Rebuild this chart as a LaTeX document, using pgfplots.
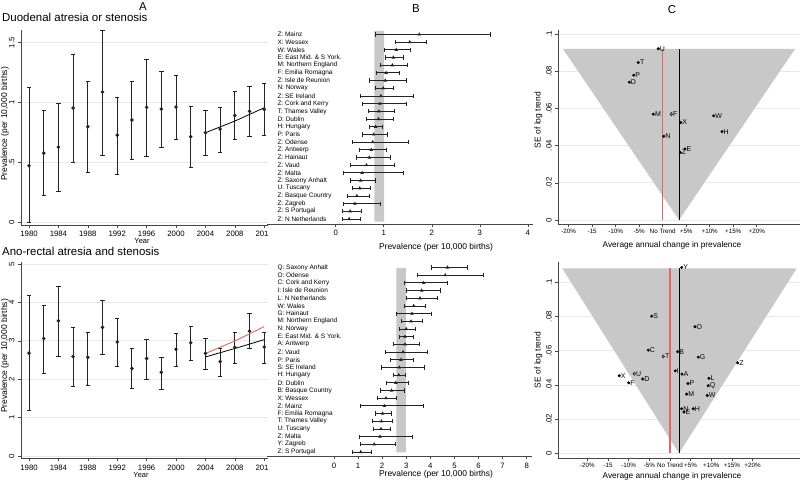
\documentclass[border=0pt]{standalone}
\usepackage{pgfplots}
\pgfplotsset{compat=1.18}
\usepackage{pgfplotstable}
\usepackage{fontspec}
\setmainfont{Liberation Sans}
\definecolor{gridc}{RGB}{226,234,236}
\definecolor{axc}{RGB}{70,70,70}
\definecolor{barc}{RGB}{35,35,35}
\definecolor{fun}{RGB}{200,200,200}
\definecolor{redl}{RGB}{228,100,95}
\newcommand{\fs}[1]{\fontsize{#1}{#1}\selectfont}

\pgfplotsset{
  stbase/.style={
    scale only axis,
    anchor=south west,
    axis line style={axc, line width=0.7bp},
    tick style={axc, line width=0.6bp},
    tick align=outside,
    major tick length=3bp,
    clip=false,
    /pgf/number format/assume math mode=true,
    major grid style={gridc, line width=0.8bp},
  },
  aerr/.style={barc, line width=0.9bp, only marks, mark=*, mark size=1.3bp,
    error bars/.cd, y dir=both, y explicit,
    error bar style={barc, line width=0.9bp},
    error mark options={rotate=90, barc, mark size=2.2bp, line width=0.9bp}},
  berr/.style={barc, line width=0.8bp, only marks, mark=triangle*, mark size=1.3bp,
    error bars/.cd, x dir=both, x explicit,
    error bar style={barc, line width=0.8bp},
    error mark options={rotate=90, barc, mark size=2.1bp, line width=0.8bp}},
  clab/.style={every node near coord/.append style={anchor=west, font=\fs{7}, inner sep=1.5bp, text=black}},
}

\pgfplotstableread{
yr y lo hi
1980 0.475 0.000 1.130
1982 0.580 0.225 0.936
1984 0.630 0.264 0.994
1986 0.956 0.503 1.400
1988 0.800 0.417 1.180
1990 1.089 0.564 1.600
1992 0.730 0.406 1.047
1994 0.856 0.525 1.178
1996 0.961 0.556 1.364
1998 0.947 0.631 1.258
2000 0.964 0.694 1.228
2002 0.717 0.464 0.967
2004 0.750 0.564 0.933
2006 0.780 0.589 0.958
2008 0.894 0.694 1.097
2010 0.928 0.717 1.133
2012 0.944 0.728 1.161
}\dAtop

\pgfplotstableread{
yr y lo hi
1980 2.68 1.18 4.17
1982 3.06 2.14 3.93
1984 3.52 2.59 4.42
1986 2.59 1.81 3.34
1988 2.57 1.85 3.23
1990 3.35 2.64 4.05
1992 2.97 2.34 3.59
1994 2.28 1.76 2.80
1996 2.54 2.00 3.04
1998 2.18 1.74 2.57
2000 2.78 2.34 3.19
2002 2.95 2.48 3.37
2004 2.67 2.26 3.06
2006 2.46 2.06 2.80
2008 2.83 2.40 3.23
2010 3.25 2.79 3.70
2012 2.84 2.40 3.23
}\dAbot

\pgfplotstableread{
row lo pt hi
25 0.83 1.74 3.22
24 1.24 1.54 1.89
23 1.01 1.26 1.55
22 1.03 1.20 1.41
21 0.94 1.18 1.50
20 0.84 1.05 1.32
19 0.70 1.03 1.48
18 0.83 0.99 1.20
17 0.51 0.94 1.61
16 0.55 0.92 1.48
15 0.67 0.90 1.22
14 0.64 0.89 1.20
13 0.70 0.83 0.98
12 0.56 0.79 1.07
11 0.34 0.77 1.52
10 0.50 0.74 1.06
9 0.43 0.70 1.13
8 0.31 0.64 1.22
7 0.15 0.55 1.40
6 0.31 0.52 0.83
5 0.35 0.50 0.73
4 0.24 0.44 0.70
3 0.15 0.40 0.93
2 0.14 0.30 0.53
1 0.14 0.28 0.51
}\dBtop

\pgfplotstableread{
row lo pt hi
25 4.03 4.71 5.52
24 3.45 4.62 6.19
23 2.93 3.72 4.71
22 3.02 3.64 4.43
21 3.02 3.57 4.29
20 2.91 3.31 3.79
19 2.59 3.24 4.03
18 2.80 3.20 3.68
17 2.71 3.00 3.36
16 2.71 2.95 3.28
15 2.46 2.95 3.54
14 2.12 2.87 3.88
13 2.34 2.78 3.29
12 1.95 2.71 3.74
11 2.46 2.69 2.98
10 2.16 2.57 3.09
9 1.92 2.39 2.93
8 1.81 2.16 2.59
7 1.11 2.09 3.71
6 1.74 2.02 2.39
5 1.61 1.97 2.41
4 1.63 1.95 2.35
3 1.05 1.91 3.24
2 1.11 1.67 2.55
1 0.78 1.11 1.54
}\dBbot

\newcommand{\bl}[3]{\node[anchor=west, font=\fs{6.5}, inner sep=0pt] at (axis cs:#1,#2) {#3};}

\begin{document}
\begin{tikzpicture}
\path[use as bounding box, fill=white] (0,0) rectangle (800bp,-480bp);

% ---------------- Titles ----------------
\node[font=\fs{11.5}] at (143bp,-7bp) {A};
\node[font=\fs{11.5}] at (416bp,-9bp) {B};
\node[font=\fs{11.5}] at (672bp,-10bp) {C};
\node[font=\fs{11.5}, anchor=west, inner sep=0pt] at (2bp,-17bp) {Duodenal atresia or stenosis};
\node[font=\fs{11.5}, anchor=west, inner sep=0pt] at (2bp,-251.5bp) {Ano-rectal atresia and stenosis};
\node[font=\fs{7.5}] at (142bp,-241bp) {Year};
\node[font=\fs{7.5}] at (141bp,-475bp) {Year};
\node[font=\fs{8.5}, rotate=90] at (5bp,-124bp) {Prevalence (per 10,000 births)};
\node[font=\fs{8.5}, rotate=90] at (5bp,-356bp) {Prevalence (per 10,000 births)};
\node[font=\fs{8.5}] at (436bp,-247bp) {Prevalence (per 10,000 births)};
\node[font=\fs{8.5}] at (436bp,-474bp) {Prevalence (per 10,000 births)};
\node[font=\fs{8.3}] at (672bp,-245bp) {Average annual change in prevalence};
\node[font=\fs{8.3}] at (672bp,-476.2bp) {Average annual change in prevalence};
\node[font=\fs{8.5}, rotate=90] at (538.5bp,-120bp) {SE of log trend};
\node[font=\fs{8.5}, rotate=90] at (538.5bp,-360bp) {SE of log trend};

% ---------------- Panel A top ----------------
\begin{scope}
\clip (0,0) rectangle (268bp,-480bp);
\begin{axis}[stbase, at={(21bp,-225bp)}, width=252.8bp, height=195.5bp,
  xmin=1978.91, xmax=2013.3, ymin=-0.019, ymax=1.61,
  axis x line*=bottom, axis y line*=left,
  xtick={1980,1984,...,2012},
  xticklabels={1980,1984,1988,1992,1996,2000,2004,2008,2012},
  ytick={0,0.5,1,1.5}, yticklabels={0,.5,1,1.5},
  yticklabel style={rotate=90, anchor=south, font=\fs{7.8}},
  xticklabel style={font=\fs{7.8}},
  ymajorgrids]
\addplot[aerr] table[x=yr, y=y, y error plus expr=\thisrow{hi}-\thisrow{y}, y error minus expr=\thisrow{y}-\thisrow{lo}] {\dAtop};
\addplot[black, line width=0.8bp] coordinates {(2004,0.750) (2008,0.847) (2012,0.958)};
\end{axis}
\end{scope}

% ---------------- Panel A bottom ----------------
\begin{scope}
\clip (0,-240bp) rectangle (268bp,-480bp);
\begin{axis}[stbase, at={(21bp,-458.3bp)}, width=252.8bp, height=196.2bp,
  xmin=1978.91, xmax=2013.3, ymin=-0.06, ymax=5.05,
  axis x line*=bottom, axis y line*=left,
  xtick={1980,1984,...,2012},
  xticklabels={1980,1984,1988,1992,1996,2000,2004,2008,2012},
  ytick={0,1,2,3,4,5}, yticklabels={0,1,2,3,4,5},
  yticklabel style={rotate=90, anchor=south, font=\fs{7.8}},
  xticklabel style={font=\fs{7.8}},
  ymajorgrids]
\addplot[aerr] table[x=yr, y=y, y error plus expr=\thisrow{hi}-\thisrow{y}, y error minus expr=\thisrow{y}-\thisrow{lo}] {\dAbot};
\addplot[black, line width=0.8bp] coordinates {(2004,2.58) (2008,2.80) (2012,3.03)};
\addplot[redl, line width=0.9bp] coordinates {(2004,2.67) (2008,2.995) (2012,3.37)};
\end{axis}
\end{scope}

% ---------------- Panel B top ----------------
\begin{axis}[stbase, at={(267bp,-224bp)}, width=265.7bp, height=197.25bp,
  xmin=-1.43, xmax=4.1, ymin=0.35, ymax=26,
  axis x line*=bottom, axis y line=none,
  xtick={0,1,2,3,4}, xticklabel style={font=\fs{7.8}}]
\addplot[fill=fun, draw=none] coordinates {(0.805,0.65) (1.01,0.65) (1.01,25.45) (0.805,25.45) (0.805,0.65)};
\addplot[berr] table[x=pt, y=row, x error plus expr=\thisrow{hi}-\thisrow{pt}, x error minus expr=\thisrow{pt}-\thisrow{lo}] {\dBtop};
\bl{-1.215}{25}{Z: Mainz}
\bl{-1.215}{24}{X: Wessex}
\bl{-1.215}{23}{W: Wales}
\bl{-1.215}{22}{E: East Mid. \& S York.}
\bl{-1.215}{21}{M: Northern England}
\bl{-1.215}{20}{F: Emilia Romagna}
\bl{-1.215}{19}{Z: Isle de Reunion}
\bl{-1.215}{18}{N: Norway}
\bl{-1.215}{17}{Z: SE Ireland}
\bl{-1.215}{16}{Z: Cork and Kerry}
\bl{-1.215}{15}{T: Thames Valley}
\bl{-1.215}{14}{D: Dublin}
\bl{-1.215}{13}{H: Hungary}
\bl{-1.215}{12}{P: Paris}
\bl{-1.215}{11}{Z: Odense}
\bl{-1.215}{10}{Z: Antwerp}
\bl{-1.215}{9}{Z: Hainaut}
\bl{-1.215}{8}{Z: Vaud}
\bl{-1.215}{7}{Z: Malta}
\bl{-1.215}{6}{Z: Saxony Anhalt}
\bl{-1.215}{5}{U: Tuscany}
\bl{-1.215}{4}{Z: Basque Country}
\bl{-1.215}{3}{Z: Zagreb}
\bl{-1.215}{2}{Z: S Portugal}
\bl{-1.215}{1}{Z: N Netherlands}
\end{axis}

% ---------------- Panel B bottom ----------------
\begin{axis}[stbase, at={(267bp,-456.3bp)}, width=265bp, height=196.5bp,
  xmin=-2.78, xmax=8.22, ymin=0.44, ymax=26,
  axis x line*=bottom, axis y line=none,
  xtick={0,1,2,3,4,5,6,7,8}, xticklabel style={font=\fs{7.8}}]
\addplot[fill=fun, draw=none] coordinates {(2.59,0.95) (2.98,0.95) (2.98,24.95) (2.59,24.95) (2.59,0.95)};
\addplot[berr] table[x=pt, y=row, x error plus expr=\thisrow{hi}-\thisrow{pt}, x error minus expr=\thisrow{pt}-\thisrow{lo}] {\dBbot};
\bl{-2.35}{25}{Q: Saxony Anhalt}
\bl{-2.35}{24}{O: Odense}
\bl{-2.35}{23}{C: Cork and Kerry}
\bl{-2.35}{22}{I: Isle de Reunion}
\bl{-2.35}{21}{L: N Netherlands}
\bl{-2.35}{20}{W: Wales}
\bl{-2.35}{19}{G: Hainaut}
\bl{-2.35}{18}{M: Northern England}
\bl{-2.35}{17}{N: Norway}
\bl{-2.35}{16}{E: East Mid. \& S York.}
\bl{-2.35}{15}{A: Antwerp}
\bl{-2.35}{14}{Z: Vaud}
\bl{-2.35}{13}{P: Paris}
\bl{-2.35}{12}{S: SE Ireland}
\bl{-2.35}{11}{H: Hungary}
\bl{-2.35}{10}{D: Dublin}
\bl{-2.35}{9}{B: Basque Country}
\bl{-2.35}{8}{X: Wessex}
\bl{-2.35}{7}{Z: Mainz}
\bl{-2.35}{6}{F: Emilia Romagna}
\bl{-2.35}{5}{T: Thames Valley}
\bl{-2.35}{4}{U: Tuscany}
\bl{-2.35}{3}{Z: Malta}
\bl{-2.35}{2}{Y: Zagreb}
\bl{-2.35}{1}{Z: S Portugal}
\end{axis}

% ---------------- Panel C top ----------------
\begin{axis}[stbase, at={(558.3bp,-224.3bp)}, width=241.7bp, height=194.3bp,
  xmin=-22.21, xmax=29.21, ymin=-0.0023, ymax=0.1023,
  axis x line*=bottom, axis y line*=left,
  xtick={-20,-15,-10,-5,0,5,10,15,20},
  xticklabels={-20\%,-15,-10\%,-5\%,No Trend,+5\%,+10\%,+15\%,+20\%},
  xticklabel style={font=\fs{6.3}, inner sep=1.5bp},
  ytick={0,0.02,0.04,0.06,0.08,0.1}, yticklabels={0,.02,.04,.06,.08,.1},
  yticklabel style={rotate=90, anchor=south, font=\fs{7.8}},
  ymajorgrids]
\addplot[fill=fun, draw=none] coordinates {(-21.21,0.0921) (28.15,0.0921) (3.47,0) (-21.21,0.0921)};
\addplot[redl, line width=1.3bp] coordinates {(0,0) (0,0.0921)};
\addplot[black, line width=0.8bp] coordinates {(3.47,0) (3.47,0.0921)};
\addplot[only marks, mark=*, mark size=1.3bp, black, clab, nodes near coords, point meta=explicit symbolic]
 table[x=x, y=y, meta=lab] {
x y lab
-0.94 0.0922 U
-5.19 0.0848 T
-6.17 0.0780 P
-7.11 0.0742 D
-2.00 0.0570 M
3.83 0.0525 X
0.21 0.0451 N
10.85 0.0561 W
12.62 0.0476 H
4.74 0.0383 E
3.74 0.0363 Z
};
\addplot[only marks, mark=diamond, mark size=1.6bp, black, line width=0.5bp, clab, nodes near coords, point meta=explicit symbolic]
 table[x=x, y=y, meta=lab] {
x y lab
1.83 0.0570 F
};
\end{axis}

% ---------------- Panel C bottom ----------------
\begin{axis}[stbase, at={(558.3bp,-458.3bp)}, width=241.7bp, height=196.3bp,
  xmin=-27.05, xmax=31.5, ymin=-0.0029, ymax=0.112,
  axis x line*=bottom, axis y line*=left,
  xtick={-20,-15,-10,-5,0,5,10,15,20},
  xticklabels={-20\%,-15,-10\%,-5\%,No Trend,+5\%,+10\%,+15\%,+20\%},
  xticklabel style={font=\fs{6.3}, inner sep=1.5bp},
  ytick={0,0.02,0.04,0.06,0.08,0.1}, yticklabels={0,.02,.04,.06,.08,.1},
  yticklabel style={rotate=90, anchor=south, font=\fs{7.8}},
  ymajorgrids]
\addplot[fill=fun, draw=none] coordinates {(-26.08,0.1082) (30.68,0.1082) (2.18,0) (-26.08,0.1082)};
\addplot[redl, line width=1.3bp] coordinates {(0,0) (0,0.1082)};
\addplot[black, line width=0.8bp] coordinates {(2.18,0) (2.18,0.1082)};
\addplot[only marks, mark=*, mark size=1.3bp, black, clab, nodes near coords, point meta=explicit symbolic]
 table[x=x, y=y, meta=lab] {
x y lab
2.83 0.1088 Y
-4.43 0.0803 S
6.05 0.0741 O
-5.25 0.0604 C
1.86 0.0595 B
6.85 0.0563 G
16.39 0.0530 Z
1.28 0.0483 I
2.91 0.0464 A
-12.28 0.0454 X
-6.61 0.0435 D
-10.00 0.0413 F
9.44 0.0439 L
4.36 0.0409 P
9.27 0.0396 Q
4.04 0.0347 M
9.03 0.0339 W
2.83 0.0261 N
5.64 0.0261 H
3.39 0.0242 E
};
\addplot[only marks, mark=diamond, mark size=1.6bp, black, line width=0.5bp, clab, nodes near coords, point meta=explicit symbolic]
 table[x=x, y=y, meta=lab] {
x y lab
-1.62 0.0567 T
-8.64 0.0466 U
};
\end{axis}
\end{tikzpicture}
\end{document}
